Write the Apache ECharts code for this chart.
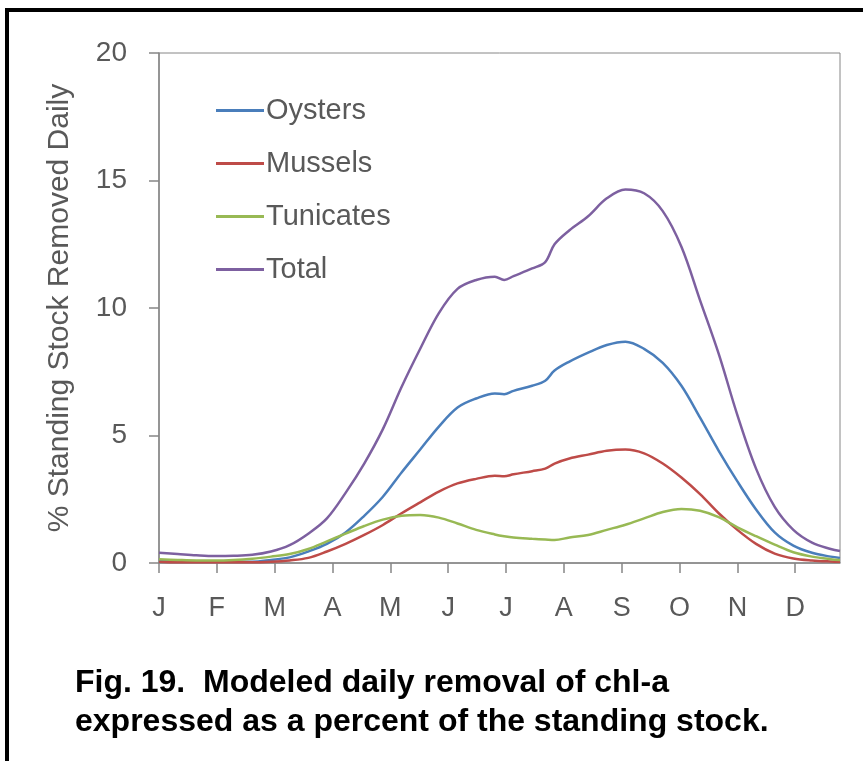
<!DOCTYPE html>
<html>
<head>
<meta charset="utf-8">
<script src="https://cdn.jsdelivr.net/npm/echarts@6/dist/echarts.min.js"></script>
<style>
  html, body { margin: 0; padding: 0; background: #fff; }
  #chart { width: 863px; height: 761px; }
</style>
</head>
<body>
<div id="chart"></div>
<script>
// day of year at which each value was read
const days = [0, 10, 20, 30, 40, 50, 60, 70, 80, 90, 100, 110, 120, 130, 140, 150, 160, 170, 180, 185, 190,
  200, 207, 212, 220, 230, 240, 250, 260, 270, 280, 290, 300, 310, 320, 330, 340, 350, 360, 365]

const oysters = [0.1, 0.08, 0.06, 0.05, 0.05, 0.05, 0.12, 0.22, 0.45, 0.75, 1.2, 1.85, 2.6, 3.55, 4.45, 5.35, 6.1,
  6.45, 6.65, 6.62, 6.75, 6.95, 7.15, 7.55, 7.9, 8.25, 8.55, 8.68, 8.4, 7.85, 6.95, 5.7, 4.4, 3.2, 2.1, 1.2, 0.68,
  0.4, 0.25, 0.2]

const mussels = [0.05, 0.03, 0.03, 0.03, 0.03, 0.03, 0.05, 0.1, 0.2, 0.45, 0.75, 1.1, 1.49, 1.95, 2.38, 2.8, 3.12,
  3.3, 3.42, 3.4, 3.48, 3.6, 3.7, 3.9, 4.1, 4.25, 4.4, 4.45, 4.3, 3.9, 3.35, 2.7, 1.95, 1.3, 0.75, 0.37, 0.18,
  0.1, 0.06, 0.05]

const tunicates = [0.15, 0.12, 0.1, 0.1, 0.12, 0.17, 0.25, 0.35, 0.55, 0.85, 1.15, 1.45, 1.7, 1.85, 1.88, 1.78,
  1.55, 1.3, 1.12, 1.05, 1.0, 0.95, 0.92, 0.9, 1.0, 1.1, 1.3, 1.5, 1.75, 2.0, 2.12, 2.05, 1.8, 1.4, 1.05, 0.72,
  0.42, 0.25, 0.15, 0.12]

const total = [0.4, 0.35, 0.3, 0.27, 0.28, 0.32, 0.45, 0.7, 1.15, 1.75, 2.75, 3.9, 5.25, 6.9, 8.4, 9.8, 10.75,
  11.1, 11.23, 11.1, 11.25, 11.55, 11.8, 12.5, 13.05, 13.6, 14.3, 14.65, 14.5, 13.8, 12.4, 10.3, 8.2, 5.8, 3.7,
  2.2, 1.3, 0.8, 0.55, 0.47]

const monthLabels = ['J', 'F', 'M', 'A', 'M', 'J', 'J', 'A', 'S', 'O', 'N', 'D']
const monthStarts = [0, 31, 62, 93, 124, 155, 186, 217, 248, 279, 310, 341]

const seriesNames = ['Oysters', 'Mussels', 'Tunicates', 'Total']
const seriesData = [oysters, mussels, tunicates, total]
const colors = ['#4A7EBB', '#BE4B48', '#98B954', '#7D60A0']

const chart = echarts.init(document.getElementById('chart'))

const axisGray = '#868686'
const labelGray = '#595959'
const fontFamily = 'Liberation Sans'

const option = {
  animation: false,
  color: colors,
  grid: {
    left: 159,
    right: 23,
    top: 53,
    bottom: 198,
    show: true,
    borderColor: axisGray,
    borderWidth: 1,
  },
  legend: {
    orient: 'vertical',
    left: 211,
    top: 91,
    data: seriesNames,
    icon: 'rect',
    itemWidth: 48,
    itemHeight: 3,
    itemGap: 24,
    textStyle: { fontSize: 29, color: labelGray, fontFamily: fontFamily, lineHeight: 29, padding: [0, 0, 0, -3] },
  },
  xAxis: {
    type: 'value',
    min: 0,
    max: 365,
    interval: 31,
    splitLine: { show: false },
    axisLine: { lineStyle: { color: axisGray, width: 1.5 } },
    axisTick: { length: 10, customValues: monthStarts, lineStyle: { color: axisGray, width: 1.5 } },
    axisLabel: {
      customValues: monthStarts,
      margin: 32,
      fontSize: 27,
      color: labelGray,
      fontFamily: fontFamily,
      formatter: (v) => monthLabels[monthStarts.indexOf(v)] || '',
    },
  },
  yAxis: {
    type: 'value',
    min: 0,
    max: 20,
    interval: 5,
    name: '% Standing Stock Removed Daily',
    nameLocation: 'middle',
    nameGap: 84,
    nameRotate: 90,
    nameTextStyle: { fontSize: 30, color: labelGray, fontFamily: fontFamily },
    splitLine: { show: false },
    axisLine: { show: true, lineStyle: { color: axisGray, width: 1.5 } },
    axisTick: { show: true, length: 10, lineStyle: { color: axisGray, width: 1.5 } },
    axisLabel: { margin: 32, fontSize: 28, color: labelGray, fontFamily: fontFamily },
  },
  series: seriesNames.map((name, i) => ({
    name: name,
    type: 'line',
    data: days.map((d, j) => [d, seriesData[i][j]]),
    showSymbol: false,
    symbol: 'none',
    smooth: 0.35,
    lineStyle: { width: 2.5, color: colors[i] },
    z: i === 2 ? 3 : 2,
  })),
  graphic: [
    { type: 'line', shape: { x1: 5, y1: 10, x2: 863, y2: 10 }, style: { stroke: '#000', lineWidth: 4 } },
    { type: 'line', shape: { x1: 7, y1: 8, x2: 7, y2: 761 }, style: { stroke: '#000', lineWidth: 4 } },
    {
      type: 'text', left: 75, top: 667,
      style: { text: 'Fig. 19.  Modeled daily removal of chl-a', font: 'bold 32px "Liberation Sans"', fill: '#000' },
    },
    {
      type: 'text', left: 75, top: 706,
      style: { text: 'expressed as a percent of the standing stock.', font: 'bold 32px "Liberation Sans"', fill: '#000' },
    },
  ],
}

chart.setOption(option)
</script>
</body>
</html>
